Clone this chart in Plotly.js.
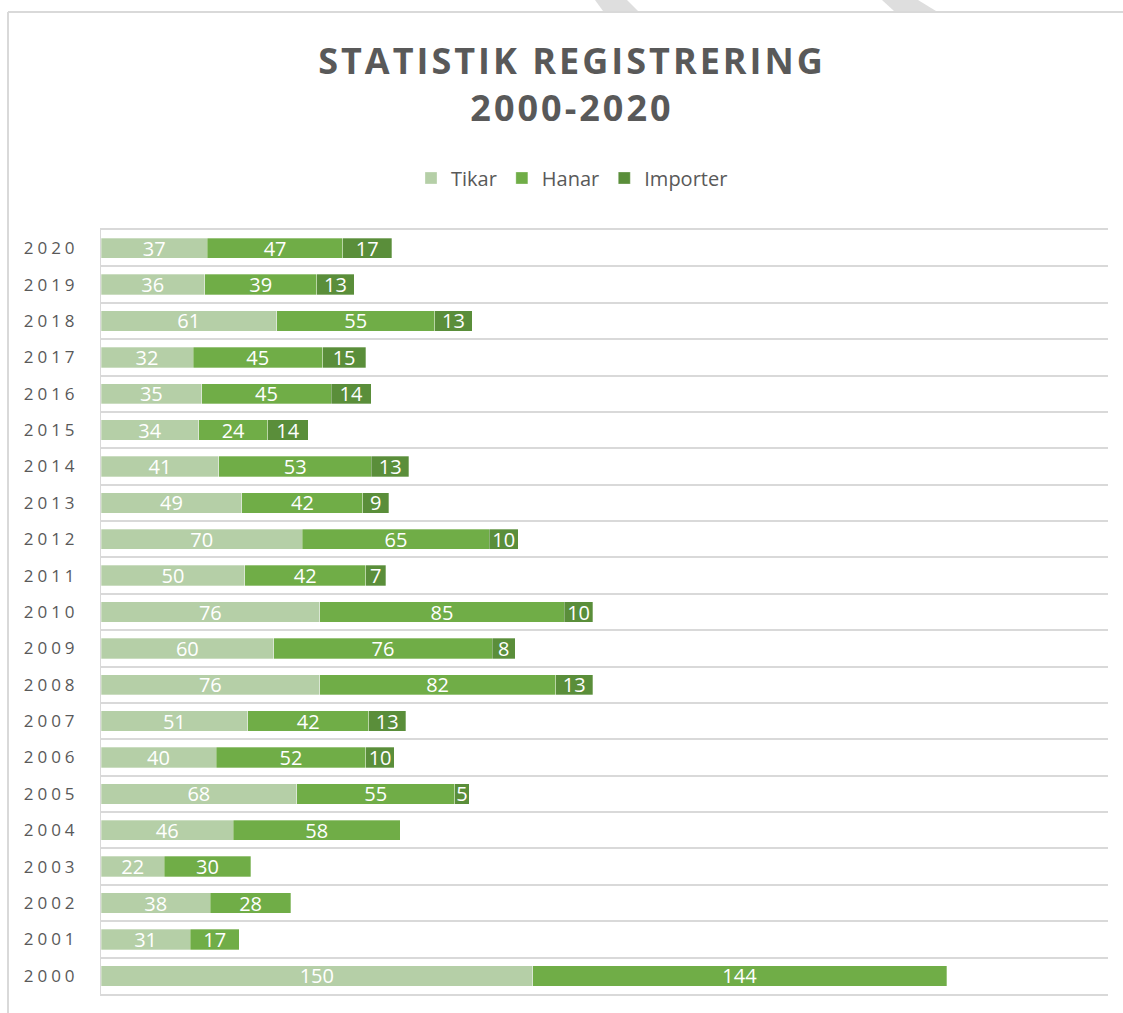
<!DOCTYPE html>
<html>
<head>
<meta charset="utf-8">
<script src="https://cdn.plot.ly/plotly-3.0.1.min.js"></script>
<style>
  html, body { margin: 0; padding: 0; background: #ffffff; }
  #chart { width: 1123px; height: 1013px; }
  .gtitle { letter-spacing: 3px; }
  g.ytick text { letter-spacing: 4px; }
</style>
</head>
<body>
<div id="chart"></div>
<script>
// ---- data ----
const years = ["2000","2001","2002","2003","2004","2005","2006","2007","2008","2009","2010",
               "2011","2012","2013","2014","2015","2016","2017","2018","2019","2020"];
const tikar    = [150, 31, 38, 22, 46, 68, 40, 51, 76, 60, 76, 50, 70, 49, 41, 34, 35, 32, 61, 36, 37];
const hanar    = [144, 17, 28, 30, 58, 55, 52, 42, 82, 76, 85, 42, 65, 42, 53, 24, 45, 45, 55, 39, 47];
const importer = [null, null, null, null, null, 5, 10, 13, 13, 8, 10, 7, 10, 9, 13, 14, 14, 15, 13, 13, 17];
const seriesNames = ["Tikar", "Hanar", "Importer"];
const seriesColors = ["#B5CFA7", "#70AD47", "#5A8E3A"];
const chartTitle = "STATISTIK REGISTRERING<br>2000-2020";

// ---- layout geometry (pixels) ----
const W = 1123, H = 1013;
const M = { l: 101, r: 15, t: 230, b: 19 };
const PW = W - M.l - M.r, PH = H - M.t - M.b;
const px = x => (x - M.l) / PW;          // pixel x -> paper x
const py = y => (H - M.b - y) / PH;      // pixel y -> paper y

const FONT = "Open Sans, Noto Sans, sans-serif";
const grey = "#595959";

const allValues = [tikar, hanar, importer];
const traces = allValues.map((vals, i) => ({
  type: "bar",
  orientation: "h",
  name: seriesNames[i],
  y: years,
  x: vals,
  marker: { color: seriesColors[i], line: { color: "rgba(255,255,255,0.5)", width: 0.6 } },
  texttemplate: "%{x}",
  textposition: "inside",
  insidetextanchor: "middle",
  textangle: 0,
  constraintext: "none",
  textfont: { family: FONT, size: 20, color: "#ffffff" },
  hoverinfo: "skip"
}));

function poly(pts) {
  return "M" + pts.map(p => px(p[0]) + "," + py(p[1])).join("L") + "Z";
}

const shapes = [
  // outer frame (left and top edges)
  { type: "line", xref: "paper", yref: "paper", x0: px(8), x1: px(8), y0: py(12), y1: py(H + 5),
    line: { color: "#d9d9d9", width: 2 }, layer: "below" },
  { type: "line", xref: "paper", yref: "paper", x0: px(8), x1: px(W + 5), y0: py(12), y1: py(12),
    line: { color: "#d9d9d9", width: 2 }, layer: "below" },
  // faint diagonal stripes above the frame
  { type: "path", xref: "paper", yref: "paper", path: poly([[595,0],[627,0],[638,11],[603,11]]),
    fillcolor: "#dedede", line: { width: 0 }, layer: "below" },
  { type: "path", xref: "paper", yref: "paper", path: poly([[882,0],[918,0],[936,11],[894,11]]),
    fillcolor: "#dedede", line: { width: 0 }, layer: "below" }
];

const layout = {
  width: W, height: H,
  margin: M,
  paper_bgcolor: "#ffffff",
  plot_bgcolor: "rgba(0,0,0,0)",
  barmode: "stack",
  bargap: 0.44,
  showlegend: true,
  hovermode: false,
  title: {
    text: chartTitle,
    font: { family: FONT, size: 36, color: grey, weight: "bold" },
    xref: "paper", x: px(572), xanchor: "center",
    yref: "container", y: 1 - 74 / H, yanchor: "top"
  },
  legend: {
    orientation: "h",
    traceorder: "normal",
    x: px(572), xanchor: "center",
    y: py(178), yanchor: "middle",
    font: { family: FONT, size: 20, color: grey },
    itemwidth: 30,
    bgcolor: "rgba(0,0,0,0)"
  },
  xaxis: {
    range: [0, 350],
    showgrid: false, zeroline: false, showticklabels: false, ticks: "",
    showline: true, mirror: true, linecolor: "#d9d9d9", linewidth: 2,
    fixedrange: true
  },
  yaxis: {
    type: "category",
    categoryorder: "array", categoryarray: years,
    tickson: "boundaries",
    showgrid: true, gridcolor: "#d9d9d9", gridwidth: 2,
    showline: true, linecolor: "#d9d9d9", linewidth: 1,
    ticks: "", ticklabelstandoff: 18,
    tickfont: { family: FONT, size: 17, color: grey },
    zeroline: false, fixedrange: true
  },
  shapes: shapes
};

Plotly.newPlot("chart", traces, layout, { displayModeBar: false, staticPlot: true });
</script>
</body>
</html>
